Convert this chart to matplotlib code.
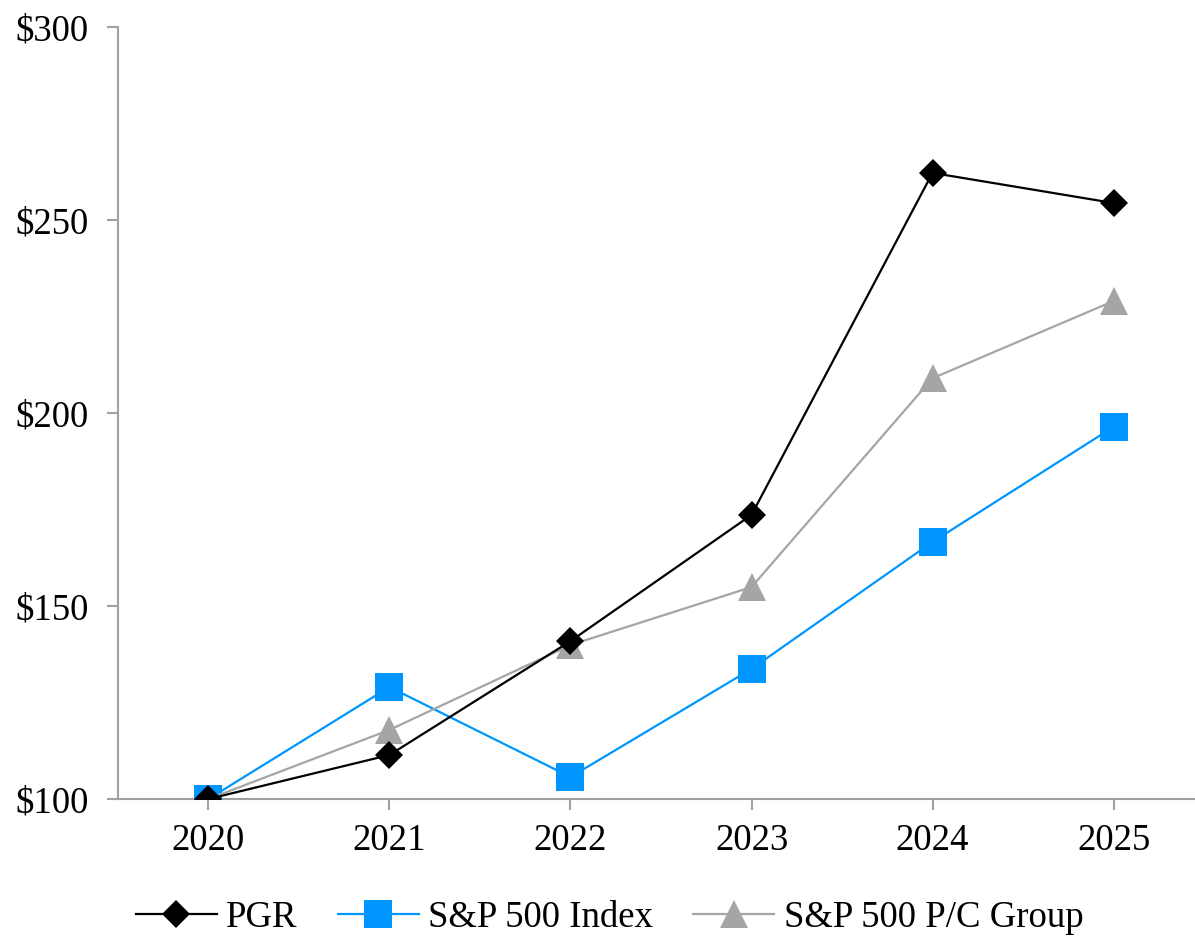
import matplotlib.pyplot as plt
from matplotlib.ticker import FuncFormatter

plt.rcParams['font.family'] = ['Liberation Serif', 'DejaVu Serif']

years = [2020, 2021, 2022, 2023, 2024, 2025]
pgr = [100, 111.4, 140.9, 173.6, 262.2, 254.4]
sp500 = [100, 129.0, 105.7, 133.7, 166.6, 196.4]
pc_group = [100, 117.9, 139.9, 154.9, 209.0, 229.0]

fig = plt.figure(figsize=(11.95, 9.38), dpi=100)
ax = fig.add_axes([0.0987, 0.1482, 0.9013, 0.823])

x = range(len(years))
ax.plot(x, sp500, color='#0096FF', lw=1.6, marker='s', ms=20, mew=0,
        label='S&P 500 Index', zorder=3)
ax.plot(x, pc_group, color='#A5A5A5', lw=1.6, marker='^', ms=20, mew=0,
        label='S&P 500 P/C Group', zorder=4)
ax.plot(x, pgr, color='black', lw=1.6, marker='D', ms=14, mew=0,
        label='PGR', zorder=5)

ax.set_xlim(-0.5, 5.45)
ax.set_ylim(100, 300)
ax.set_yticks([100, 150, 200, 250, 300])
ax.yaxis.set_major_formatter(FuncFormatter(lambda v, p: '${:.0f}'.format(v)))
ax.set_xticks(list(x))
ax.set_xticklabels([str(y) for y in years])

for s in ['top', 'right']:
    ax.spines[s].set_visible(False)
for s in ['left', 'bottom']:
    ax.spines[s].set_color('#A0A0A0')
    ax.spines[s].set_linewidth(1.5)
    ax.spines[s].set_clip_on(False)
ax.tick_params(axis='both', colors='#A0A0A0', labelcolor='black',
               labelsize=26.5, length=8, width=1.5)
ax.tick_params(axis='y', pad=13)
ax.tick_params(axis='x', pad=10)

handles, labels = ax.get_legend_handles_labels()
order = [2, 0, 1]
fig.legend([handles[i] for i in order], [labels[i] for i in order],
           loc='center', bbox_to_anchor=(0.51, 1 - 918 / 938), ncol=3,
           frameon=False, fontsize=26.5, handlelength=2.2, handletextpad=0.25,
           columnspacing=1.1, markerscale=1.0)

fig.savefig('out.png', dpi=100)
